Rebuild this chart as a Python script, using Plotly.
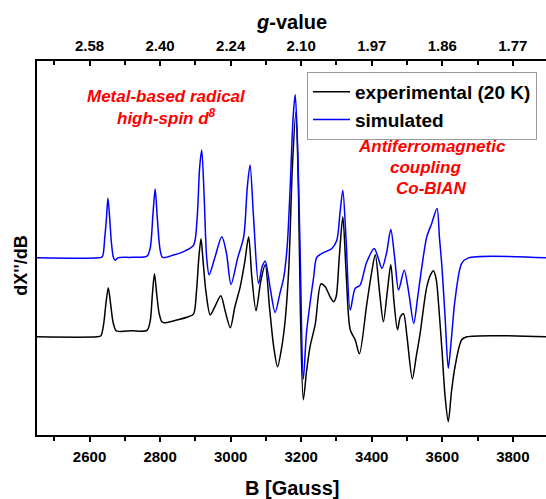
import plotly.graph_objects as go

# ---------------- data ----------------
B_exp = [2451, 2620, 2632, 2640, 2646, 2653, 2660, 2667, 2676, 2720, 2763, 2772, 2778, 2784, 2790, 2797,
         2805, 2812, 2850, 2880, 2895, 2903, 2910, 2916, 2922, 2930, 2942, 2955, 2972, 2985, 2999, 3012,
         3027, 3040, 3051, 3060, 3072, 3085, 3098, 3110, 3122, 3133, 3145, 3155, 3165, 3175, 3185, 3192,
         3198, 3206, 3215, 3225, 3240, 3256, 3268, 3282, 3292, 3299, 3308, 3318, 3328, 3339, 3353, 3365,
         3386, 3400, 3410, 3422, 3433, 3444, 3454, 3463, 3473, 3481, 3490, 3500, 3515, 3526, 3537, 3556,
         3568, 3575, 3583, 3590, 3599, 3608, 3617, 3626, 3636, 3655, 3670, 3894]
I_exp = [0, 0, 1, 13, 32, 49, 32, 14, 6, 6, 6.5, 16, 42, 63, 44, 24,
         15, 14, 17, 20, 23, 45, 80, 98, 75, 45, 22, 30, 41, 25, 9, 30,
         50, 75, 100, 60, 26, 55, 72, 30, -10, -30, -10, 18, 70, 170, 225, 150,
         20, -63, -35, -10, 13, 53, 50, 40, 35, 40, 80, 120, 60, 7, -3, -17,
         33, 65, 82, 45, 15, 45, 72, 35, 7, 20, 23, 0, -42, -20, 3, 50,
         63, 66, 57, 30, -13, -60, -85, -55, -30, -3, 0, 0]

B_sim = [2451, 2625, 2636, 2643, 2648, 2652, 2657, 2662, 2668, 2673, 2680, 2720, 2763, 2772, 2780, 2786,
         2792, 2800, 2807, 2840, 2871, 2895, 2905, 2912, 2918, 2925, 2932, 2939, 2955, 2975, 2988, 3001,
         3020, 3037, 3047, 3055, 3065, 3079, 3090, 3098, 3112, 3126, 3140, 3150, 3160, 3169, 3177, 3183,
         3190, 3197, 3206, 3215, 3225, 3235, 3244, 3259, 3287, 3301, 3310, 3318, 3327, 3339, 3353, 3367,
         3385, 3407, 3418, 3429, 3442, 3454, 3465, 3476, 3492, 3505, 3519, 3530, 3542, 3556, 3570, 3585,
         3592, 3599, 3608, 3617, 3626, 3636, 3655, 3674, 3894]
I_sim = [0, 0, 1, 20, 40, 60, 40, 15, 0, -2.5, 0, 0.5, 1.7, 10, 45, 69,
         40, 8, 0.4, 3, 7, 12.7, 40, 90, 108, 60, 0, -17, 0, 21, 5, -26.6,
         0, 21, 70, 93, 40, -25.6, -8, -3.3, -30, -54.6, -35, -20.6, 10, 72.7, 140, 163.4,
         110, 6, -121.3, -75, -45.6, -20, 0.4, 4.4, 9.4, 17.7, 45, 67.7, 20, -52.3, -30.6, -27.3,
         -5, 9.4, 0, -10.6, 5, 28.4, 0, -32.3, -12.3, -35, -65.6, -40, -9, 21, 34.4, 49.4,
         20, -9, -60, -110.6, -80, -42.3, -5.6, 0, 0]

SIM_OFFSET = 79  # vertical stacking offset of the simulated trace

B_ticks = [2600, 2800, 3000, 3200, 3400, 3600, 3800]
g_labels = ["2.58", "2.40", "2.24", "2.10", "1.97", "1.86", "1.77"]
B_minor = [2500, 2700, 2900, 3100, 3300, 3500, 3700]

# ---------------- figure ----------------
W, H = 546, 499
L, R, T, Bm = 37, 0, 61, 64
FONT = "Liberation Sans, Arial, sans-serif"


def px_x(x):
    return (x - L) / (W - L - R)


def px_y(y):
    return (H - Bm - y) / (H - Bm - T)


fig = go.Figure()
fig.add_trace(go.Scatter(x=B_exp, y=I_exp, mode="lines", name="experimental (20 K)",
                         line=dict(color="#000000", width=1.5, shape="spline", smoothing=0.8)))
# simulated trace uses the top (g-value) axis, which shares the same field range
fig.add_trace(go.Scatter(x=B_sim, y=[v + SIM_OFFSET for v in I_sim], mode="lines", name="simulated",
                         xaxis="x2", yaxis="y",
                         line=dict(color="#0000FF", width=1.5, shape="spline", smoothing=0.8)))

xr = [2451, 3894]
fig.update_layout(
    width=W, height=H,
    margin=dict(l=L, r=R, t=T, b=Bm, pad=0),
    paper_bgcolor="white", plot_bgcolor="white",
    font=dict(family=FONT, color="black"),
    showlegend=True,
    legend=dict(x=px_x(307), y=px_y(72), xanchor="left", yanchor="top",
                bordercolor="#9a9a9a", borderwidth=1, bgcolor="white",
                font=dict(family=FONT, size=19, color="black", weight="bold"),
                itemwidth=37, tracegroupgap=0),
    xaxis=dict(range=xr, showgrid=False, zeroline=False, showline=True, linecolor="black", linewidth=1.5,
               tickmode="array", tickvals=B_ticks, ticks="outside", ticklen=5, tickwidth=1.5, tickcolor="black",
               tickfont=dict(family=FONT, size=15, color="black", weight="bold"),
               ticklabelstandoff=2,
               minor=dict(tickmode="array", tickvals=B_minor, ticks="outside", ticklen=4, tickwidth=1.5,
                          tickcolor="black"),
               automargin=False),
    xaxis2=dict(range=xr, overlaying="x", side="top", anchor="y", showgrid=False, zeroline=False,
                showline=True, linecolor="black", linewidth=1.5,
                tickmode="array", tickvals=B_ticks, ticktext=g_labels, ticks="inside", ticklen=5,
                tickwidth=1.5, tickcolor="black",
                tickfont=dict(family=FONT, size=15, color="black", weight="bold"),
                ticklabelstandoff=2,
                minor=dict(tickmode="array", tickvals=B_minor, ticks="inside", ticklen=4, tickwidth=1.5,
                           tickcolor="black"),
                automargin=False),
    yaxis=dict(range=[-98.3, 276], showgrid=False, zeroline=False, showline=True, linecolor="black",
               linewidth=1.5, showticklabels=False, ticks="", automargin=False),
)

ann = []


def add_text(text, x, y, size, color="black", angle=0):
    ann.append(dict(text=text, x=px_x(x), y=px_y(y), xref="paper", yref="paper", showarrow=False,
                    xanchor="center", yanchor="middle", textangle=angle,
                    font=dict(family=FONT, size=size, color=color, weight="bold")))


add_text("<i>g</i>-value", 291.5, 22, 20)
add_text("B [Gauss]", 291.5, 488, 20)
add_text("dX''/dB", 20.7, 265, 18, angle=-90)
add_text("<i>Metal-based radical</i>", 166.7, 96.7, 17, "#FF0000")
add_text("<i>high-spin d<sup>8</sup></i>", 166.7, 116.5, 17, "#FF0000")
add_text("<i>Antiferromagnetic</i>", 431.7, 146, 17, "#FF0000")
add_text("<i>coupling</i>", 425, 167, 17, "#FF0000")
add_text("<i>Co-BIAN</i>", 431.7, 188, 17, "#FF0000")
fig.update_layout(annotations=ann)

fig.write_html("out.html", config={"displayModeBar": False},
               post_script="document.body.style.margin='0';document.body.style.padding='0';")
